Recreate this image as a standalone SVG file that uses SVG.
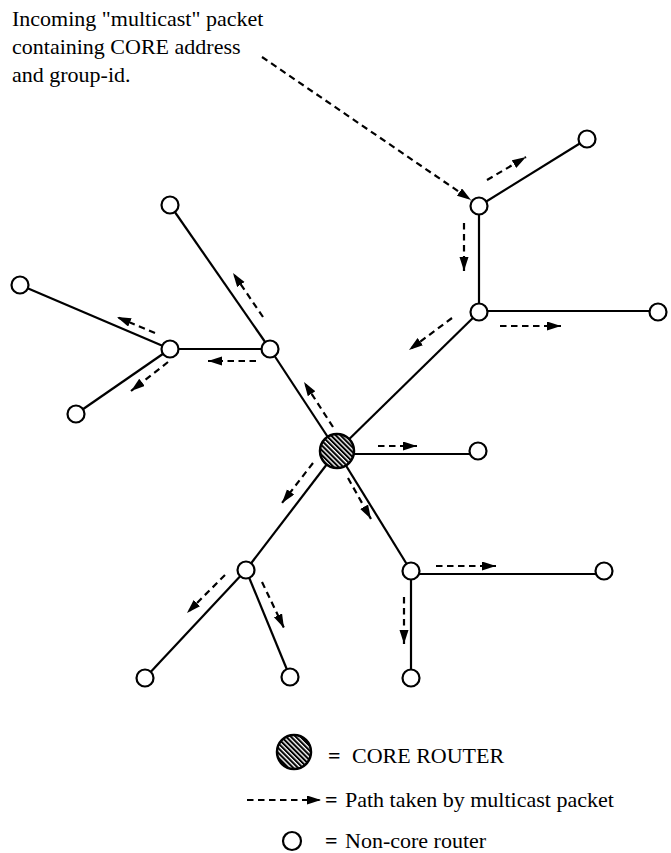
<svg xmlns="http://www.w3.org/2000/svg" width="671" height="853" viewBox="0 0 671 853">
<style>
text{font-family:"Liberation Serif","Times New Roman",serif;font-size:22px;fill:#000}
.eq{font-weight:bold}
.edge{stroke:#000;stroke-width:2.2;fill:none}
.flow{stroke:#000;stroke-width:2.2;fill:none;stroke-dasharray:6.5 4.5;marker-end:url(#ah)}
.node{fill:#fff;stroke:#000;stroke-width:2.2}
.core{fill:url(#hatch);stroke:#000;stroke-width:2.5}
</style>
<defs>
<marker id="ah" markerUnits="userSpaceOnUse" markerWidth="15" markerHeight="10" refX="14" refY="4.5" orient="auto">
<path d="M0,0 L14,4.5 L0,9 z" fill="#000"/>
</marker>
<pattern id="hatch" patternUnits="userSpaceOnUse" width="3.4" height="3.4" patternTransform="rotate(-45)">
<rect width="3.4" height="3.4" fill="#fff"/>
<line x1="1" y1="0" x2="1" y2="3.4" stroke="#000" stroke-width="2.1"/>
</pattern>
</defs>
<rect width="671" height="853" fill="#fff"/>

<g id="label-incoming">
<text x="12" y="26">Incoming "multicast" packet</text>
<text x="12" y="54">containing CORE address</text>
<text x="12" y="82">and group-id.</text>
</g>

<g id="connectors">
<g id="edges">
<line class="edge" x1="479" y1="206" x2="587" y2="139"/>
<line class="edge" x1="479" y1="206" x2="479" y2="312"/>
<line class="edge" x1="479" y1="311" x2="658" y2="311"/>
<line class="edge" x1="479" y1="312" x2="337" y2="451"/>
<line class="edge" x1="337" y1="454" x2="478" y2="454"/>
<line class="edge" x1="337" y1="451" x2="411" y2="571"/>
<line class="edge" x1="411" y1="574" x2="604" y2="574"/>
<line class="edge" x1="411" y1="571" x2="411" y2="678"/>
<line class="edge" x1="337" y1="451" x2="246" y2="570"/>
<line class="edge" x1="246" y1="570" x2="145" y2="678"/>
<line class="edge" x1="246" y1="570" x2="290" y2="677"/>
<line class="edge" x1="337" y1="451" x2="270" y2="349"/>
<line class="edge" x1="270" y1="349" x2="170" y2="205"/>
<line class="edge" x1="270" y1="349" x2="170" y2="349"/>
<line class="edge" x1="170" y1="349" x2="20" y2="285"/>
<line class="edge" x1="170" y1="349" x2="76" y2="414"/>
</g>
<g id="flows">
<line class="flow" x1="262" y1="57" x2="471" y2="200"/>
<line class="flow" x1="487" y1="180" x2="526" y2="157"/>
<line class="flow" x1="464" y1="223" x2="464" y2="271"/>
<line class="flow" x1="500" y1="326" x2="561" y2="326"/>
<line class="flow" x1="452" y1="318" x2="409" y2="350"/>
<line class="flow" x1="378" y1="446" x2="417" y2="446"/>
<line class="flow" x1="348" y1="478" x2="371" y2="519"/>
<line class="flow" x1="313" y1="463" x2="282" y2="503"/>
<line class="flow" x1="333" y1="427" x2="304" y2="382"/>
<line class="flow" x1="263" y1="317" x2="233" y2="273"/>
<line class="flow" x1="256" y1="361" x2="208" y2="361"/>
<line class="flow" x1="155" y1="333" x2="117" y2="317"/>
<line class="flow" x1="168" y1="362" x2="131" y2="391"/>
<line class="flow" x1="436" y1="566" x2="496" y2="566"/>
<line class="flow" x1="404" y1="597" x2="404" y2="644"/>
<line class="flow" x1="225" y1="575" x2="187" y2="613"/>
<line class="flow" x1="262" y1="582" x2="284" y2="628"/>
</g>
</g>

<g id="core"><circle class="core" cx="337" cy="451" r="17"/></g>
<g id="n-a"><circle class="node" cx="587" cy="139" r="8.5"/></g>
<g id="n-b"><circle class="node" cx="479" cy="206" r="8.5"/></g>
<g id="n-c"><circle class="node" cx="479" cy="312" r="8.5"/></g>
<g id="n-d"><circle class="node" cx="658" cy="312" r="8.5"/></g>
<g id="n-e"><circle class="node" cx="170" cy="205" r="8.5"/></g>
<g id="n-f"><circle class="node" cx="270" cy="349" r="8.5"/></g>
<g id="n-g"><circle class="node" cx="170" cy="349" r="8.5"/></g>
<g id="n-h"><circle class="node" cx="20" cy="285" r="8.5"/></g>
<g id="n-i"><circle class="node" cx="76" cy="414" r="8.5"/></g>
<g id="n-j"><circle class="node" cx="478" cy="451" r="8.5"/></g>
<g id="n-k"><circle class="node" cx="411" cy="571" r="8.5"/></g>
<g id="n-l"><circle class="node" cx="604" cy="571" r="8.5"/></g>
<g id="n-m"><circle class="node" cx="411" cy="678" r="8.5"/></g>
<g id="n-n"><circle class="node" cx="246" cy="570" r="8.5"/></g>
<g id="n-o"><circle class="node" cx="145" cy="678" r="8.5"/></g>
<g id="n-p"><circle class="node" cx="290" cy="677" r="8.5"/></g>

<g id="legend">
<circle class="core" cx="294" cy="752" r="17"/>
<text class="eq" x="328" y="763">=</text>
<text x="352" y="763">CORE ROUTER</text>
<line class="flow" x1="247" y1="800" x2="321" y2="800"/>
<text class="eq" x="325" y="807">=</text>
<text x="345" y="807">Path taken by multicast packet</text>
<circle class="node" cx="292" cy="841" r="9"/>
<text class="eq" x="325" y="848">=</text>
<text x="345" y="848">Non-core router</text>
</g>
</svg>
